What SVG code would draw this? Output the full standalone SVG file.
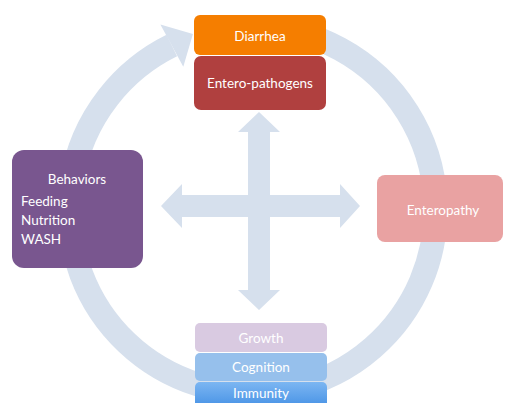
<svg xmlns="http://www.w3.org/2000/svg" width="505" height="403" viewBox="0 0 505 403">
  <defs>
    <style>
      .flow { fill: #d6e0ed; }
      .ring { fill: none; stroke: #d6e0ed; stroke-width: 24; }
      .lbl { font-family: Lato, "Open Sans", "Liberation Sans", sans-serif; font-size: 13.5px; fill: #ffffff; }
      .mid { text-anchor: middle; }
    </style>
    <linearGradient id="immunityFill" x1="0" y1="0" x2="0" y2="1">
      <stop offset="0" stop-color="#7cb6f2"/>
      <stop offset="1" stop-color="#3d8be3"/>
    </linearGradient>
  </defs>

  <rect width="505" height="403" fill="#ffffff"/>

  <!-- connectors: the outer clockwise cycle and the central four-way arrow -->
  <g id="connectors">
    <path class="ring" d="M 261 27 A 183 183 0 1 1 171.8 45.6"/>
    <polygon class="flow" points="160.4,24.5 192.9,34.1 183.3,66.7"/>
    <polygon class="flow" points="259,112 280,132 270,132 270,195 340,195 340,184 360,206 340,228 340,217 270,217 270,290 280,290 259,310 238,290 248,290 248,217 182,217 182,228 161,206 182,184 182,195 248,195 248,132 238,132"/>
  </g>

  <g id="diarrhea">
    <rect x="194" y="15" width="132" height="40" rx="6" fill="#f57e00"/>
    <text class="lbl mid" x="260" y="41">Diarrhea</text>
  </g>

  <g id="entero-pathogens">
    <rect x="194" y="56" width="132" height="54" rx="7" fill="#b0403f"/>
    <text class="lbl mid" x="260" y="88">Entero-pathogens</text>
  </g>

  <g id="behaviors">
    <rect x="12" y="150" width="131" height="118" rx="12" fill="#79568f"/>
    <text class="lbl mid" x="77" y="184">Behaviors</text>
    <text class="lbl" x="21" y="206">Feeding</text>
    <text class="lbl" x="21" y="225">Nutrition</text>
    <text class="lbl" x="21" y="244">WASH</text>
  </g>

  <g id="enteropathy">
    <rect x="377" y="175" width="126" height="67" rx="8" fill="#e9a2a2"/>
    <text class="lbl mid" x="443" y="215">Enteropathy</text>
  </g>

  <g id="growth">
    <rect x="195" y="323" width="132" height="29" rx="5" fill="#d9cae1"/>
    <text class="lbl mid" x="261" y="343">Growth</text>
  </g>

  <g id="cognition">
    <rect x="195" y="353" width="132" height="28" rx="5" fill="#96c0ec"/>
    <text class="lbl mid" x="261" y="372">Cognition</text>
  </g>

  <g id="immunity">
    <rect x="195" y="382" width="132" height="30" rx="5" fill="url(#immunityFill)"/>
    <text class="lbl mid" x="261" y="398">Immunity</text>
  </g>
</svg>
